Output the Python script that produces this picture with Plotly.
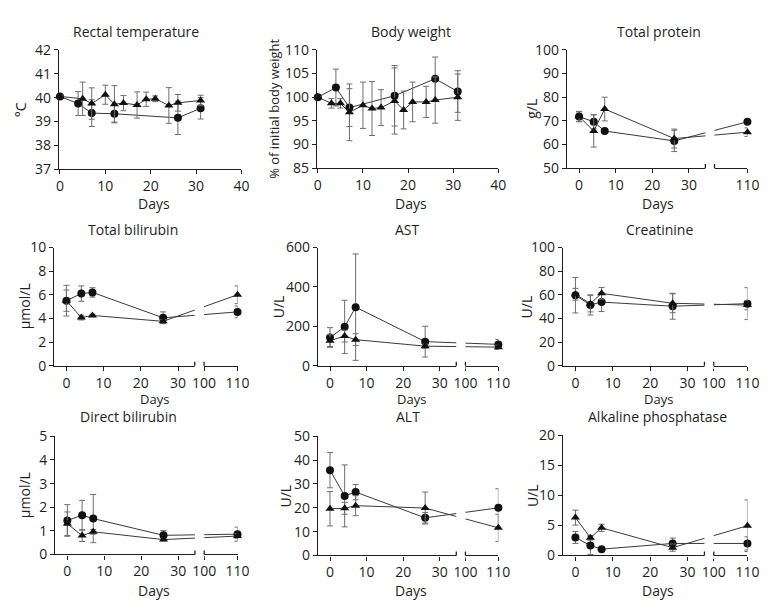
import plotly.graph_objects as go

# --- data (mean and error-bar half-length) ---
# circles = one group, triangles = the other

# Rectal temperature (degC)
temp_days_c = [0, 4, 7, 12, 26, 31]
temp_c = [40.05, 39.75, 39.35, 39.32, 39.15, 39.55]
temp_c_err = [0.05, 0.5, 0.56, 0.35, 0.7, 0.45]
temp_days_t = [0, 5, 7, 10, 12, 14, 17, 19, 21, 24, 26, 31]
temp_t = [40.05, 39.95, 39.75, 40.12, 39.72, 39.77, 39.69, 39.93, 39.95, 39.67, 39.78, 39.88]
temp_t_err = [0.05, 0.7, 0.66, 0.4, 0.78, 0.32, 0.55, 0.3, 0.12, 0.75, 0.35, 0.22]

# Body weight (% of initial)
bw_days_c = [0, 4, 7, 17, 26, 31]
bw_c = [100, 102.05, 97.8, 100.3, 103.9, 101.2]
bw_c_err = [0, 3.9, 4.0, 6.4, 4.6, 4.4]
bw_days_t = [0, 3, 5, 7, 10, 12, 14, 17, 19, 21, 24, 26, 31]
bw_t = [100, 98.7, 98.7, 96.8, 98.3, 97.6, 97.8, 99.2, 97.3, 99.0, 99.0, 99.4, 100.0]
bw_t_err = [0, 1.0, 1.0, 6.0, 4.9, 5.7, 3.8, 7.0, 4.0, 4.2, 3.3, 4.9, 4.9]

# clinical chemistry, sampled on the same days
chem_days = [0, 4, 7, 26, 110]

prot_c = [71.8, 69.6, 65.7, 61.5, 69.6]
prot_c_err = [2.2, 3.0, 0.8, 4.5, 0.8]
prot_t = [71.8, 65.7, 75.0, 62.5, 65.2]
prot_t_err = [2.0, 6.8, 5.0, 4.0, 1.8]

tbil_c = [5.5, 6.1, 6.2, 4.05, 4.55]
tbil_c_err = [1.3, 0.65, 0.4, 0.5, 0.5]
tbil_t = [5.5, 4.07, 4.25, 3.75, 6.0]
tbil_t_err = [0.9, 0.2, 0.1, 0.15, 0.75]

ast_c = [143, 197, 297, 122, 108]
ast_c_err = [50, 135, 270, 78, 25]
ast_t = [127, 150, 132, 99, 94]
ast_t_err = [30, 30, 30, 10, 10]

crea_c = [59.6, 51.4, 53.8, 50.3, 52.5]
crea_c_err = [15, 8.5, 8, 11, 13.5]
crea_t = [60.4, 52.5, 61.2, 52.8, 51.3]
crea_t_err = [5, 7, 5, 8, 4]

dbil_c = [1.44, 1.66, 1.52, 0.81, 0.86]
dbil_c_err = [0.67, 0.63, 1.02, 0.2, 0.3]
dbil_t = [1.3, 0.8, 0.96, 0.63, 0.78]
dbil_t_err = [0.5, 0.25, 0.1, 0.05, 0.1]

alt_c = [35.8, 25.0, 26.6, 15.8, 20.0]
alt_c_err = [7.4, 13, 3.2, 2.2, 8]
alt_t = [19.6, 19.8, 20.9, 19.9, 11.6]
alt_t_err = [7.2, 2.5, 4.2, 6.7, 5.7]

alp_c = [3.0, 1.65, 1.05, 2.0, 2.0]
alp_c_err = [1.0, 1.5, 0.2, 0.9, 1.1]
alp_t = [6.3, 2.95, 4.6, 1.3, 4.95]
alp_t_err = [1.25, 0.4, 0.6, 0.6, 4.3]

W, H = 774, 601
INK = "#231f20"
FONT = "Open Sans"
FS = 14


# broken x axis: days up to ~35 kept as is, 100..110 squeezed in after a gap
def xpos(days):
    return [d if d < 50 else 37 + (d - 100) * 0.9 for d in days]


# (title, y title, y range, dtick, broken?, series, plot box px, title x, ytitle x)
panels = [
    ("Rectal temperature", "°C", [37, 42], 1, False,
     [(temp_days_c, temp_c, temp_c_err), (temp_days_t, temp_t, temp_t_err)],
     (49, 235, 33, 156), 127, 10),
    ("Body weight", "% of initial body weight", [85, 110], 5, False,
     [(bw_days_c, bw_c, bw_c_err), (bw_days_t, bw_t, bw_t_err)],
     (312, 497, 33, 155), 408, 268),
    ("Total protein", "g/L", [50, 100], 10, True,
     [(chem_days, prot_c, prot_c_err), (chem_days, prot_t, prot_t_err)],
     (567, 751, 33, 155), 661, 530),
    ("Total bilirubin", "µmol/L", [0, 10], 2, True,
     [(chem_days, tbil_c, tbil_c_err), (chem_days, tbil_t, tbil_t_err)],
     (44, 231, 237, 359), 124, 14),
    ("AST", "U/L", [0, 600], 200, True,
     [(chem_days, ast_c, ast_c_err), (chem_days, ast_t, ast_t_err)],
     (313, 497, 237, 359), 404, 273),
    ("Creatinine", "U/L", [0, 100], 20, True,
     [(chem_days, crea_c, crea_c_err), (chem_days, crea_t, crea_t_err)],
     (563, 751, 237, 359), 661, 526),
    ("Direct bilirubin", "µmol/L", [0, 5], 1, True,
     [(chem_days, dbil_c, dbil_c_err), (chem_days, dbil_t, dbil_t_err)],
     (45, 231, 432, 554), 120, 14),
    ("ALT", "U/L", [0, 50], 10, True,
     [(chem_days, alt_c, alt_c_err), (chem_days, alt_t, alt_t_err)],
     (313, 497, 432, 555), 405, 280),
    ("Alkaline phosphatase", "U/L", [0, 20], 5, True,
     [(chem_days, alp_c, alp_c_err), (chem_days, alp_t, alp_t_err)],
     (563, 751, 431, 555), 659, 532),
]

fig = go.Figure()
layout = {}
shapes = []
annotations = []

for i, (title, ytitle, yrange, dtick, broken, series, box, tx, yx) in enumerate(panels):
    n = i + 1
    xa = "x" if n == 1 else f"x{n}"
    ya = "y" if n == 1 else f"y{n}"
    x0, x1, y0, y1 = box

    for (days, vals, errs), sym in zip(series, ["circle", "triangle-up"]):
        fig.add_trace(go.Scatter(
            x=xpos(days), y=vals,
            mode="lines+markers",
            line=dict(color="#3a3a3a", width=1),
            marker=dict(symbol=sym, size=8, color="#111111"),
            error_y=dict(type="data", array=errs, visible=True,
                         color="#6e6e6e", thickness=1, width=3),
            cliponaxis=False, showlegend=False,
            xaxis=xa, yaxis=ya,
        ))

    axis_common = dict(
        showline=True, linecolor=INK, linewidth=1.3,
        ticks="outside", ticklen=4, tickwidth=1.3, tickcolor=INK,
        showgrid=False, zeroline=False,
        tickfont=dict(family=FONT, size=FS, color=INK),
    )
    if broken:
        tv = [0, 10, 20, 30, 100, 110] if n != 3 else [0, 10, 20, 30, 110]
        xaxis = dict(axis_common, range=[-3.3, 46], tickmode="array",
                     tickvals=xpos(tv), ticktext=[str(t) for t in tv])
    else:
        xaxis = dict(axis_common, range=[-0.2, 40], tickmode="array",
                     tickvals=[0, 10, 20, 30, 40])
    xaxis.update(domain=[x0 / W, x1 / W], anchor=ya)
    yaxis = dict(axis_common, range=yrange, dtick=dtick, tick0=yrange[0],
                 domain=[1 - y1 / H, 1 - y0 / H], anchor=xa)
    layout["xaxis" if n == 1 else f"xaxis{n}"] = xaxis
    layout["yaxis" if n == 1 else f"yaxis{n}"] = yaxis

    if broken:
        # blank the gap, then draw the little end marks of each segment
        shapes.append(dict(type="rect", xref=xa, yref=f"{ya} domain",
                           x0=34.5, x1=37, y0=-0.03, y1=1.02,
                           fillcolor="white", line=dict(width=0), layer="above"))
        for bx in (34.5, 37):
            shapes.append(dict(type="line", xref=xa, yref=ya,
                               x0=bx, x1=bx, ysizemode="pixel", yanchor=yrange[0],
                               y0=-4, y1=4, line=dict(color=INK, width=1.3),
                               layer="above"))

    # panel title, y title, x title
    title_y = {33: 14, 237: 218, 431: 412, 432: 412}[y0]
    annotations.append(dict(text=title, x=tx / W, y=1 - title_y / H,
                            xref="paper", yref="paper", showarrow=False,
                            xanchor="center", yanchor="middle",
                            font=dict(family=FONT, size=FS, color=INK)))
    yt_size = 13 if n == 2 else FS
    annotations.append(dict(text=ytitle, x=yx / W, y=1 - (y0 + y1) / 2 / H,
                            xref="paper", yref="paper", showarrow=False,
                            textangle=-90, xanchor="center", yanchor="middle",
                            font=dict(family=FONT, size=yt_size, color=INK)))
    days_y = {156: 192, 155: 192, 359: 393, 554: 591, 555: 591}[y1]
    days_x = {0: 146, 1: 408, 2: 660}[i % 3]
    annotations.append(dict(text="Days", x=days_x / W, y=1 - days_y / H,
                            xref="paper", yref="paper", showarrow=False,
                            xanchor="center", yanchor="middle",
                            font=dict(family=FONT, size=13 if y0 == 237 else FS,
                                      color=INK)))

fig.update_layout(
    width=W, height=H,
    margin=dict(l=0, r=0, t=0, b=0),
    paper_bgcolor="white", plot_bgcolor="white",
    font=dict(family=FONT, size=FS, color=INK),
    shapes=shapes, annotations=annotations,
    **layout,
)

fig.write_html("out.html")
